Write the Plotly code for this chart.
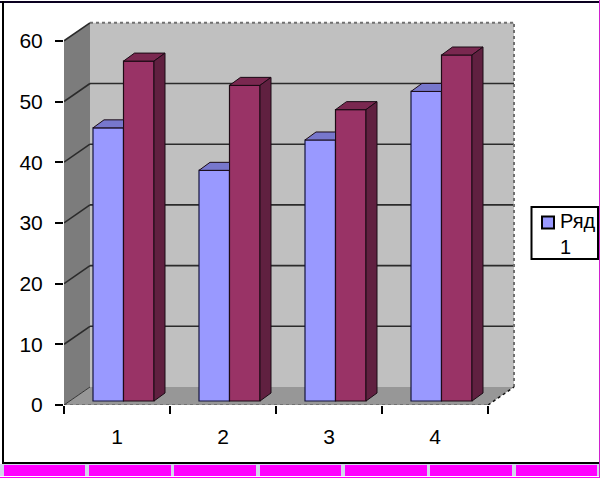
import plotly.graph_objects as go

categories = [1, 2, 3, 4]
series_blue = [45, 38, 43, 51]
series_red = [56, 52, 48, 57]
y_ticks = [0, 10, 20, 30, 40, 50, 60]
series_name = "Ряд<br>1"

W, H = 600, 478
L, BOT = 64, 405            # pixel position of the axis origin
PX_X, PX_Y = 106.0, 6.07    # pixels per data unit
px = lambda p: p / PX_X
py = lambda p: p / PX_Y
X0 = 0.5
x_range = [X0, X0 + (W - L) / PX_X]
y_range = [0, BOT / PX_Y]

# wall depth / bar depth (data units)
WX, WY = px(26), py(18)
BX, BY = px(11), py(8)
INSET = py(4)
BAR_W = px(30.5)
OFF_B = px(29) - 0.5
OFF_R = OFF_B + BAR_W
xL, xR = X0, X0 + 4
yT = 60

def path(pts):
    return "M" + " L".join(f"{a},{b}" for a, b in pts) + " Z"

def poly(pts, fill, line=None, lw=1):
    return dict(type="path", path=path(pts), xref="x", yref="y", layer="below",
                fillcolor=fill, line=dict(color=line or "rgba(0,0,0,0)", width=lw))

def seg(x0, y0, x1, y1, color="#2b2b2b", w=1.6, dash="solid", layer="below"):
    return dict(type="line", x0=x0, y0=y0, x1=x1, y1=y1, xref="x", yref="y",
                layer=layer, line=dict(color=color, width=w, dash=dash))

shapes = [
    poly([(xL + WX, WY), (xR + WX, WY), (xR + WX, yT + WY), (xL + WX, yT + WY)], "#C0C0C0"),
    poly([(xL, 0), (xL + WX, WY), (xL + WX, yT + WY), (xL, yT)], "#7c7c7c"),
    poly([(xL, 0), (xR, 0), (xR + WX, WY), (xL + WX, WY)], "#979797"),
]
for t in y_ticks[1:]:
    shapes.append(seg(xL, t, xL + WX, t + WY))
    if t < 60:
        shapes.append(seg(xL + WX, t + WY, xR + WX, t + WY))
shapes += [
    seg(xL, 0, xL + WX, WY, "#333333", 1),
    seg(xL + WX, yT + WY, xR + WX, yT + WY, "#707070", 2, "dot"),
    seg(xR + WX, WY, xR + WX, yT + WY, "#707070", 2, "dot"),
    seg(xR, 0, xR + WX, WY, "#111111", 1.5, "dot"),
    seg(xL, -py(1), xR, -py(1), "#000000", 2.5, "dot", "above"),
]

# page furniture, in pixels converted to paper coordinates
def fx(p):
    return (p - L) / (W - L)
def fy(p):
    return 1 - p / BOT
def rect(x0, y0, x1, y1, color, layer="below"):
    return dict(type="rect", xref="paper", yref="paper", x0=fx(x0), x1=fx(x1), y0=fy(y0), y1=fy(y1),
                fillcolor=color, line=dict(width=0), layer=layer)

shapes += [
    rect(0, 464, 600, 478, "#D4D4EC"),
    rect(0, 476, 600, 478, "#FFFFFF"),
    rect(0, 477, 600, 478, "#FF00FF"),
    rect(599, 0, 600, 478, "#D020D0"),
    rect(0, 1, 599, 3, "#0A0020"),
    rect(2, 1, 4, 464, "#000000"),
    rect(2, 462, 599, 464, "#000000"),
]
for a, b in [(4, 85), (89, 171), (174, 256), (260, 341), (345, 427), (430, 512), (516, 597)]:
    shapes.append(rect(a, 465, b, 476, "#FF00FF"))
# legend frame
shapes.append(dict(type="rect", xref="paper", yref="paper", x0=fx(531.5), x1=fx(598), y0=fy(207), y1=fy(259),
                   fillcolor="#FFFFFF", line=dict(color="#000000", width=2), layer="below"))

fig = go.Figure()
fig.add_bar(x=categories, y=series_blue, base=INSET, width=BAR_W, offset=OFF_B, name=series_name,
            marker=dict(color="#9999FF", line=dict(color="#14143c", width=1.2)))
fig.add_bar(x=categories, y=series_red, base=INSET, width=BAR_W, offset=OFF_R, showlegend=False,
            marker=dict(color="#993366", line=dict(color="#1e0a14", width=1.2)))

def face(pts, color):
    xs = [p[0] for p in pts] + [pts[0][0]]
    ys = [p[1] for p in pts] + [pts[0][1]]
    fig.add_scatter(x=xs, y=ys, mode="lines", fill="toself", fillcolor=color,
                    line=dict(color="#1a0a14", width=1), showlegend=False, hoverinfo="skip")

for c, vb, vr in zip(categories, series_blue, series_red):
    bl = c + OFF_B
    rl = c + OFF_R
    rr = rl + BAR_W
    tb = vb + INSET
    tr = vr + INSET
    # blue top, cut off where the red front begins
    face([(bl, tb), (bl + BX, tb + BY), (rl, tb + BY), (rl, tb)], "#7777CC")
    # red top and side
    face([(rl, tr), (rl + BX, tr + BY), (rr + BX, tr + BY), (rr, tr)], "#7A2850")
    face([(rr, INSET), (rr + BX, INSET + BY), (rr + BX, tr + BY), (rr, tr)], "#602040")

font = dict(family="Liberation Sans, Arial, sans-serif", size=21, color="#000000")
boundaries = [0.5, 1.5, 2.5, 3.5, 4.5]

fig.update_layout(
    width=W, height=H, autosize=False,
    margin=dict(l=L, r=0, t=0, b=H - BOT, pad=0, autoexpand=False),
    paper_bgcolor="#FFFFFF", plot_bgcolor="rgba(0,0,0,0)",
    font=font, barmode="overlay", shapes=shapes,
    showlegend=True,
    legend=dict(xref="container", yref="container", x=530 / W, y=1 - 201 / H, xanchor="left", yanchor="top",
                bgcolor="rgba(0,0,0,0)", borderwidth=0, font=dict(size=20), indentation=-10,
                itemsizing="trace", tracegroupgap=0),
    xaxis=dict(range=x_range, tickmode="array", tickvals=categories, ticktext=[str(c) for c in categories],
               ticks="outside", ticklen=0, ticklabelstandoff=13, showgrid=False, zeroline=False, showline=False,
               minor=dict(tickmode="array", tickvals=boundaries, ticks="outside", ticklen=8, tickwidth=2,
                          tickcolor="#000000", showgrid=False)),
    yaxis=dict(range=y_range, tickmode="array", tickvals=y_ticks, ticks="outside", ticklen=8, tickwidth=2,
               tickcolor="#000000", showgrid=False, zeroline=False, showline=False, ticklabelstandoff=8),
)

post = """
document.body.style.margin='0';document.documentElement.style.overflow='hidden';
var gd=document.getElementById('{plot_id}');
function nudge(){var n=gd.querySelector('.legend .traces .layers');
 if(n&&!n.dataset.nudged){n.dataset.nudged='1';n.setAttribute('transform',(n.getAttribute('transform')||'')+' translate(8,-11)');
 var p=n.querySelector('path');if(p){p.style.stroke='#000';p.style.strokeWidth='2px';}}}
Promise.resolve(gd._promises?Promise.all(gd._promises):0).then(nudge);
setTimeout(nudge,50);
"""
fig.write_html("out.html", config=dict(displayModeBar=False), post_script=post)
